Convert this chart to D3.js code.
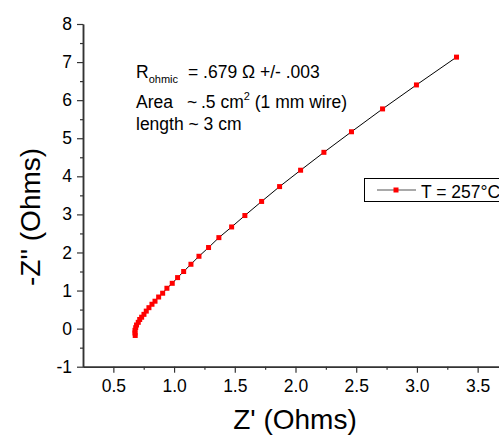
<!DOCTYPE html>
<html>
<head>
<meta charset="utf-8">
<script src="https://cdn.jsdelivr.net/npm/d3@7"></script>
<style>
  body { margin: 0; background: #fff; }
  text { font-family: "Liberation Sans", Arial, sans-serif; fill: #000; }
</style>
</head>
<body>
<div id="chart"></div>
<script>
// impedance data (Z' and -Z'' in Ohms)
var zReal = [0.680, 0.678, 0.678, 0.684, 0.691, 0.705, 0.717, 0.733, 0.752, 0.771,
             0.793, 0.818, 0.843, 0.873, 0.906, 0.941, 0.985, 1.029, 1.079, 1.139,
             1.205, 1.284, 1.369, 1.474, 1.583, 1.721, 1.869, 2.042, 2.234, 2.461,
             2.717, 2.996, 3.326]
var zImag = [-0.18, -0.115, -0.045, 0.025, 0.095, 0.165, 0.24, 0.30, 0.375, 0.46,
             0.55, 0.64, 0.72, 0.83, 0.93, 1.06, 1.19, 1.34, 1.50, 1.69,
             1.90, 2.13, 2.39, 2.67, 2.97, 3.34, 3.73, 4.16, 4.63, 5.17,
             5.77, 6.40, 7.13]

// tick values
var xTicks = [0.5, 1.0, 1.5, 2.0, 2.5, 3.0, 3.5]
var xMinor = [0.75, 1.25, 1.75, 2.25, 2.75, 3.25, 3.75]
var yTicks = [-1, 0, 1, 2, 3, 4, 5, 6, 7, 8]
var yMinor = [-0.5, 0.5, 1.5, 2.5, 3.5, 4.5, 5.5, 6.5, 7.5]

var seriesLabel = "T = 257\u00B0C"

var width = 499,
    height = 436

var svg = d3.select("#chart")
  .append("svg")
    .attr("width", width)
    .attr("height", height)

// scales (the x axis runs past the right edge, as in the original)
var x = d3.scaleLinear().domain([0.25, 3.75]).range([83, 508])
var y = d3.scaleLinear().domain([-1, 8]).range([366.7, 24])

var data = zReal.map(function(d, i) { return {x: d, y: zImag[i]} })

// line through the points
var line = d3.line()
  .x(function(d) { return x(d.x) })
  .y(function(d) { return y(d.y) })

svg.append("path")
  .datum(data)
  .attr("d", line)
  .attr("fill", "none")
  .attr("stroke", "#000")
  .attr("stroke-width", 1)

// square markers
svg.selectAll("rect.pt")
  .data(data)
  .enter()
  .append("rect")
    .attr("class", "pt")
    .attr("x", function(d) { return x(d.x) - 2.5 })
    .attr("y", function(d) { return y(d.y) - 2.5 })
    .attr("width", 5)
    .attr("height", 5)
    .attr("fill", "#ff0000")

// axes
function styleAxis(g) {
  g.select(".domain").attr("stroke", "#333").attr("stroke-width", 1.5)
  g.selectAll(".tick line").attr("stroke", "#333").attr("stroke-width", 1.2)
  g.selectAll("text").style("font-size", "17.5px")
}

svg.append("g")
  .attr("transform", "translate(0," + y(-1) + ")")
  .call(d3.axisBottom(x).tickValues(xMinor).tickSize(3).tickSizeOuter(0).tickFormat(""))
  .call(styleAxis)

svg.append("g")
  .attr("transform", "translate(0," + y(-1) + ")")
  .call(d3.axisBottom(x).tickValues(xTicks).tickSize(6).tickSizeOuter(0).tickPadding(7)
    .tickFormat(d3.format(".1f")))
  .call(styleAxis)

svg.append("g")
  .attr("transform", "translate(" + x(0.25) + ",0)")
  .call(d3.axisLeft(y).tickValues(yMinor).tickSize(3).tickSizeOuter(0).tickFormat(""))
  .call(styleAxis)

svg.append("g")
  .attr("transform", "translate(" + x(0.25) + ",0)")
  .call(d3.axisLeft(y).tickValues(yTicks).tickSize(6).tickSizeOuter(0).tickPadding(5)
    .tickFormat(function(d) { return String(d) }))
  .call(styleAxis)

// axis titles
svg.append("text")
  .attr("x", 295)
  .attr("y", 429)
  .attr("text-anchor", "middle")
  .style("font-size", "28px")
  .text("Z' (Ohms)")

svg.append("text")
  .attr("transform", "translate(40,217) rotate(-90)")
  .attr("text-anchor", "middle")
  .style("font-size", "28px")
  .text("-Z'' (Ohms)")

// annotation
var note = svg.append("g").style("font-size", "17.5px")

var l1 = note.append("text").attr("x", 136).attr("y", 78)
l1.append("tspan").text("R")
l1.append("tspan").attr("dy", 5).style("font-size", "11px").text("ohmic")
l1.append("tspan").attr("x", 188).attr("y", 78).text("= .679 \u03A9 +/- .003")

var l2 = note.append("text").attr("x", 136).attr("y", 108)
l2.append("tspan").text("Area")
l2.append("tspan").attr("x", 187).text("~")
l2.append("tspan").attr("x", 201).text(".5 cm")
l2.append("tspan").attr("dy", -8).style("font-size", "11px").text("2")
l2.append("tspan").attr("dy", 8).text(" (1 mm wire)")

note.append("text").attr("x", 136).attr("y", 130).text("length ~ 3 cm")

// legend
var legend = svg.append("g")
legend.append("rect")
  .attr("x", 364.5)
  .attr("y", 178.5)
  .attr("width", 150)
  .attr("height", 23)
  .attr("fill", "#fff")
  .attr("stroke", "#000")
  .attr("stroke-width", 1)
legend.append("line")
  .attr("x1", 377).attr("x2", 416)
  .attr("y1", 190).attr("y2", 190)
  .attr("stroke", "#555")
  .attr("stroke-width", 1.2)
legend.append("rect")
  .attr("x", 393.5).attr("y", 187.5)
  .attr("width", 5).attr("height", 5)
  .attr("fill", "#ff0000")
legend.append("text")
  .attr("x", 421)
  .attr("y", 197.5)
  .style("font-size", "17.5px")
  .text(seriesLabel)
</script>
</body>
</html>
